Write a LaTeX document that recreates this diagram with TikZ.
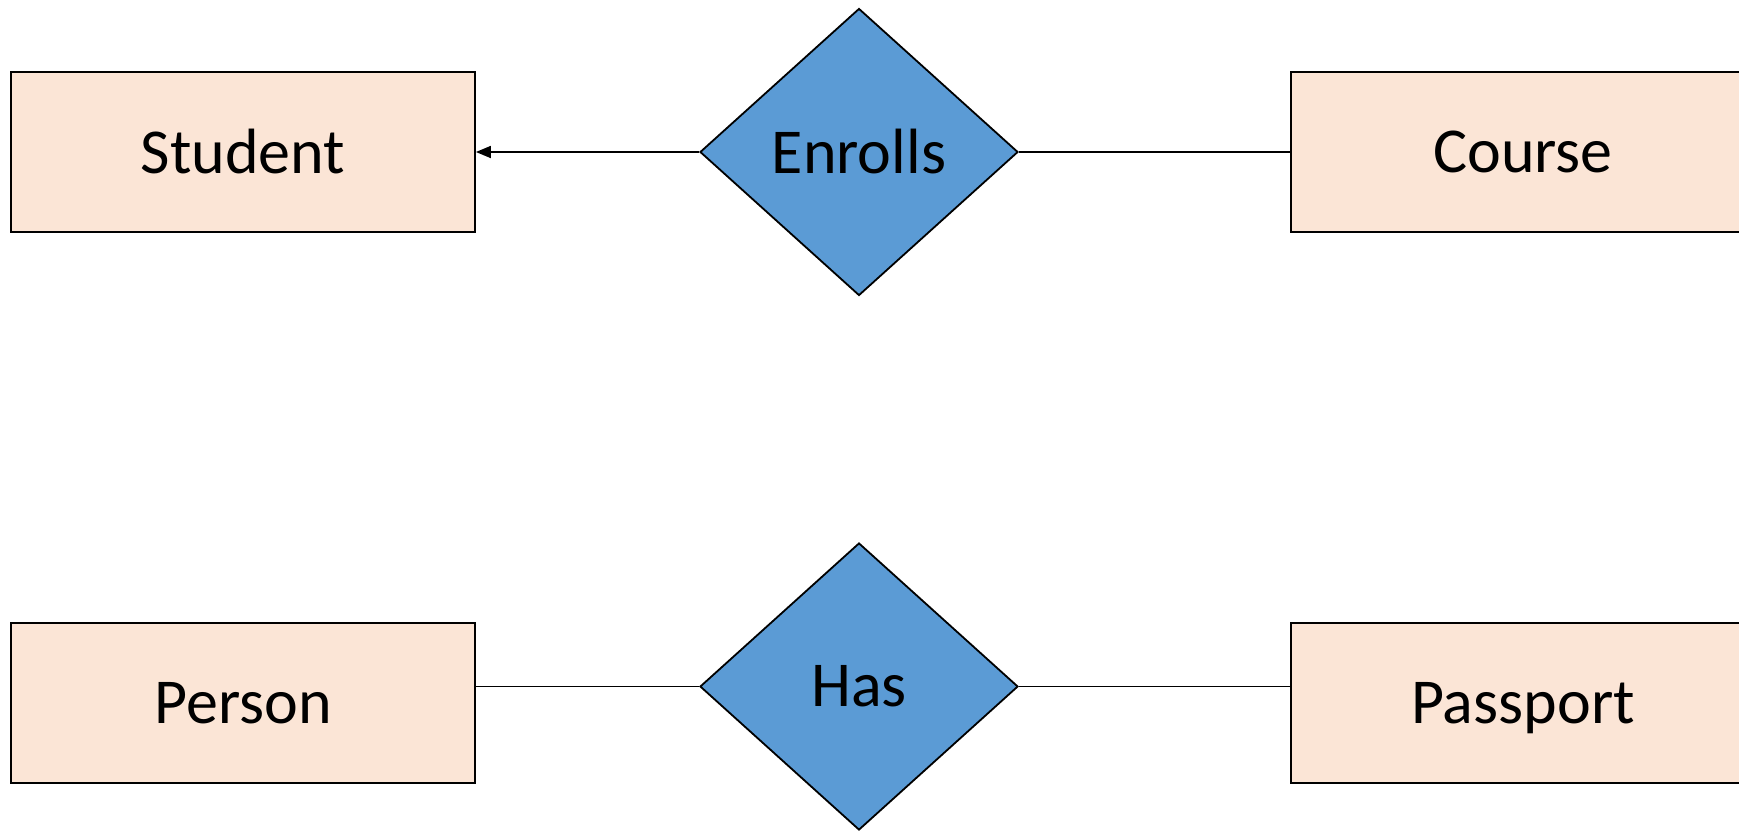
\documentclass[tikz,border=0pt]{standalone}
\usepackage{fontspec}
\setmainfont{Carlito}
\usetikzlibrary{arrows.meta,shapes.geometric,positioning}
\definecolor{entfill}{RGB}{251,229,214}
\definecolor{relfill}{RGB}{91,155,213}

\begin{document}
\begin{tikzpicture}[x=0.5pt,y=-0.5pt,>={Triangle[length=7.5pt,width=6pt]},
    font=\fontsize{32}{38}\selectfont,
    entity/.style={draw,line width=0.9pt,fill=entfill,minimum width=232pt,minimum height=80pt,inner sep=0pt},
    relation/.style={draw,line width=0.9pt,fill=relfill,diamond,minimum width=159pt,minimum height=143.5pt,inner sep=0pt},
    link/.style={line width=0.9pt}]
  \clip (0,0) rectangle (1739,831);
  \useasboundingbox (0,0) rectangle (1739,831);
  % top row
  \node[entity] (student) at (243,152) {Student};
  \node[entity] (course) at (1523,152) {Course};
  \node[relation] (enrolls) at (859,152) {Enrolls};
  \draw[link,->] (enrolls.west) -- (student.east);
  \draw[link] (enrolls.east) -- (course.west);
  % bottom row
  \node[entity,text depth=-3pt] (person) at (243,703) {Person};
  \node[entity,text depth=-3pt] (passport) at (1523,703) {Passport};
  \node[relation] (has) at (859,686.5) {Has};
  \draw[link] (has.west) -- (has.west -| person.east);
  \draw[link] (has.east) -- (has.east -| passport.west);
\end{tikzpicture}
\end{document}
